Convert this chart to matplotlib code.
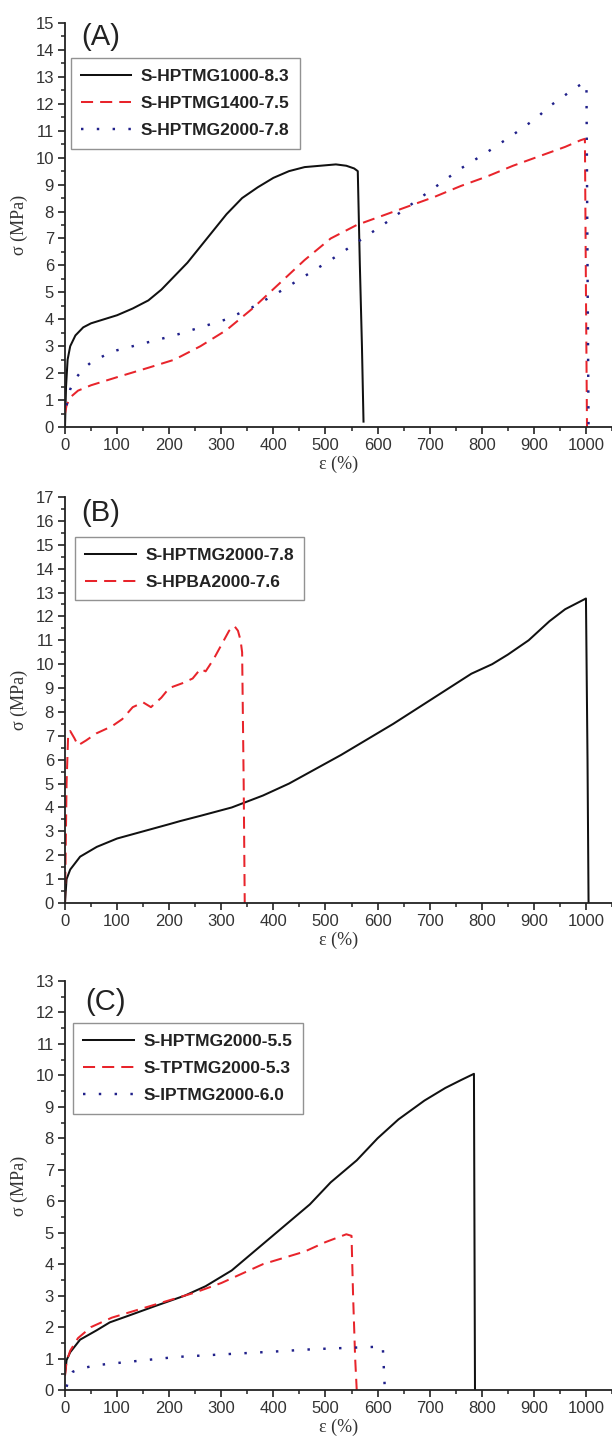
import matplotlib
matplotlib.use("Agg")
import matplotlib.pyplot as plt
from matplotlib.ticker import MultipleLocator

# ---------------- data ----------------
# Panel A
a_black_x = [0, 2, 5, 10, 20, 35, 50, 75, 100, 130, 160, 185, 210, 235, 260, 285, 310, 340, 370, 400, 430, 460, 490, 520, 540, 555, 562, 566, 570, 573]
a_black_y = [0, 1.5, 2.5, 3.0, 3.4, 3.7, 3.85, 4.0, 4.15, 4.4, 4.7, 5.1, 5.6, 6.1, 6.7, 7.3, 7.9, 8.5, 8.9, 9.25, 9.5, 9.65, 9.7, 9.75, 9.7, 9.6, 9.5, 6.0, 3.0, 0.2]
a_red_x = [0, 3, 10, 25, 50, 100, 160, 210, 260, 310, 360, 410, 460, 510, 560, 610, 660, 710, 760, 810, 860, 910, 960, 990, 998, 1000, 1002]
a_red_y = [0.5, 0.8, 1.1, 1.35, 1.55, 1.85, 2.2, 2.5, 3.0, 3.6, 4.4, 5.3, 6.2, 7.0, 7.5, 7.85, 8.2, 8.55, 8.95, 9.3, 9.7, 10.05, 10.4, 10.65, 10.7, 5.0, 0.0]
a_blue_x = [3, 6, 10, 20, 35, 50, 75, 100, 160, 210, 260, 310, 360, 410, 460, 510, 560, 610, 660, 710, 760, 810, 860, 907, 929, 952, 972, 997, 1001, 1003, 1005]
a_blue_y = [0.8, 1.1, 1.4, 1.8, 2.15, 2.4, 2.65, 2.85, 3.15, 3.4, 3.7, 4.0, 4.45, 5.0, 5.6, 6.2, 6.85, 7.5, 8.2, 8.9, 9.6, 10.2, 10.85, 11.5, 11.9, 12.2, 12.5, 12.8, 12.6, 6.0, 0.0]

# Panel B
b_black_x = [0, 3, 10, 29, 61, 100, 125, 150, 200, 221, 260, 320, 380, 430, 480, 530, 580, 630, 680, 730, 780, 820, 850, 890, 930, 960, 1000, 1003, 1005]
b_black_y = [0, 1.0, 1.4, 1.94, 2.35, 2.7, 2.85, 3.0, 3.3, 3.43, 3.65, 4.0, 4.5, 5.0, 5.6, 6.2, 6.85, 7.5, 8.2, 8.9, 9.6, 10.0, 10.4, 11.0, 11.8, 12.3, 12.75, 6.0, 0.0]
b_red_x = [0, 3, 6, 10, 18, 25, 40, 60, 90, 110, 130, 150, 165, 185, 200, 225, 245, 260, 270, 285, 300, 315, 325, 332, 337, 340, 343, 345]
b_red_y = [0, 5.0, 7.0, 7.2, 6.9, 6.6, 6.8, 7.1, 7.4, 7.7, 8.2, 8.4, 8.2, 8.6, 9.0, 9.2, 9.4, 9.8, 9.7, 10.2, 10.8, 11.4, 11.6, 11.4, 11.0, 10.5, 5.0, 0.0]

# Panel C
c_black_x = [0, 3, 10, 29, 61, 86, 120, 170, 230, 270, 320, 370, 420, 470, 510, 560, 600, 640, 690, 730, 760, 785, 786, 787]
c_black_y = [0.5, 0.95, 1.2, 1.6, 1.9, 2.15, 2.35, 2.65, 3.0, 3.3, 3.8, 4.5, 5.2, 5.9, 6.6, 7.3, 8.0, 8.6, 9.2, 9.6, 9.85, 10.05, 5.0, 0.0]
c_red_x = [0, 3, 10, 25, 50, 90, 150, 200, 250, 300, 340, 380, 420, 460, 500, 540, 550, 553, 557, 560]
c_red_y = [0.45, 0.9, 1.25, 1.65, 2.0, 2.3, 2.6, 2.85, 3.1, 3.4, 3.7, 4.0, 4.2, 4.4, 4.7, 4.95, 4.9, 3.0, 1.0, 0.0]
c_blue_x = [3, 8, 15, 30, 61, 125, 214, 300, 400, 480, 560, 610, 612, 614]
c_blue_y = [0.1, 0.4, 0.58, 0.68, 0.79, 0.9, 1.05, 1.13, 1.22, 1.3, 1.35, 1.38, 0.7, 0.0]

labels_a = ["S-HPTMG1000-8.3", "S-HPTMG1400-7.5", "S-HPTMG2000-7.8"]
labels_b = ["S-HPTMG2000-7.8", "S-HPBA2000-7.6"]
labels_c = ["S-HPTMG2000-5.5", "S-TPTMG2000-5.3", "S-IPTMG2000-6.0"]
panel_tags = ["(A)", "(B)", "(C)"]
ymax = [15, 17, 13]

# ---------------- style ----------------
BLACK = "#111111"
RED = "#e8242b"
BLUE = "#20208a"
LW = 1.45
sans = ["Liberation Sans", "DejaVu Sans"]
serif = ["Liberation Serif", "DejaVu Serif"]

fig = plt.figure(figsize=(6.12, 14.39), dpi=100)

W = 612.0
H = 1439.0
left = 65 / W
width = (612 - 65) / W
boxes = [(23, 427), (497, 903), (981, 1390)]  # top, bottom in px
tag_pos = [(0.029, 0.965), (0.029, 0.960), (0.037, 0.949)]
leg_pos = [(0.0104, 0.913), (0.018, 0.901), (0.0146, 0.897)]

series = [
    [(a_black_x, a_black_y, BLACK, "-"), (a_red_x, a_red_y, RED, "--"), (a_blue_x, a_blue_y, BLUE, ":")],
    [(b_black_x, b_black_y, BLACK, "-"), (b_red_x, b_red_y, RED, "--")],
    [(c_black_x, c_black_y, BLACK, "-"), (c_red_x, c_red_y, RED, "--"), (c_blue_x, c_blue_y, BLUE, ":")],
]
labels = [labels_a, labels_b, labels_c]

for i in range(3):
    top, bot = boxes[i]
    ax = fig.add_axes([left, 1 - bot / H, width, (bot - top) / H])
    for (x, y, c, ls), lab in zip(series[i], labels[i]):
        if ls == "-":
            ax.plot(x, y, color=c, lw=LW, label=lab)
        elif ls == "--":
            ax.plot(x, y, color=c, lw=LW, dashes=(6, 3.5), label=lab)
        else:
            ax.plot(x, y, color=c, lw=LW + 0.3, dashes=(1, 5.5), label=lab)
    ax.set_xlim(0, 1050)
    ax.set_ylim(0, ymax[i])
    for s in ["top", "right"]:
        ax.spines[s].set_visible(False)
    for s in ["left", "bottom"]:
        ax.spines[s].set_linewidth(1.3)
        ax.spines[s].set_color("#222222")
    ax.xaxis.set_major_locator(MultipleLocator(100))
    ax.xaxis.set_minor_locator(MultipleLocator(50))
    ax.yaxis.set_major_locator(MultipleLocator(1))
    ax.yaxis.set_minor_locator(MultipleLocator(0.5))
    ax.set_xticks(list(range(0, 1001, 100)))
    ax.tick_params(which="major", direction="out", length=5, width=1.2, color="#222222",
                   labelsize=12, labelcolor="#333333", pad=3)
    ax.tick_params(which="minor", direction="out", length=3, width=1.1, color="#222222")
    for t in ax.get_xticklabels() + ax.get_yticklabels():
        t.set_fontfamily(sans)
    ax.set_xlabel("ε (%)", fontfamily=serif, fontsize=13, color="#333333", labelpad=2)
    ax.set_ylabel("σ (MPa)", fontfamily=serif, fontsize=13, color="#333333", labelpad=5)
    ax.text(tag_pos[i][0], tag_pos[i][1], panel_tags[i], transform=ax.transAxes,
            fontsize=21, fontfamily=sans, color="#222222", va="center", ha="left")
    leg = ax.legend(loc="upper left", bbox_to_anchor=leg_pos[i], borderaxespad=0,
                    prop={"family": sans, "weight": "bold", "size": 12.5},
                    handlelength=2.9, handletextpad=0.55, labelspacing=0.7,
                    borderpad=0.6, fancybox=False, frameon=True)
    leg.get_frame().set_edgecolor("#777777")
    leg.get_frame().set_linewidth(1.0)
    for t in leg.get_texts():
        t.set_color("#222222")

fig.savefig("out.png", dpi=100)
